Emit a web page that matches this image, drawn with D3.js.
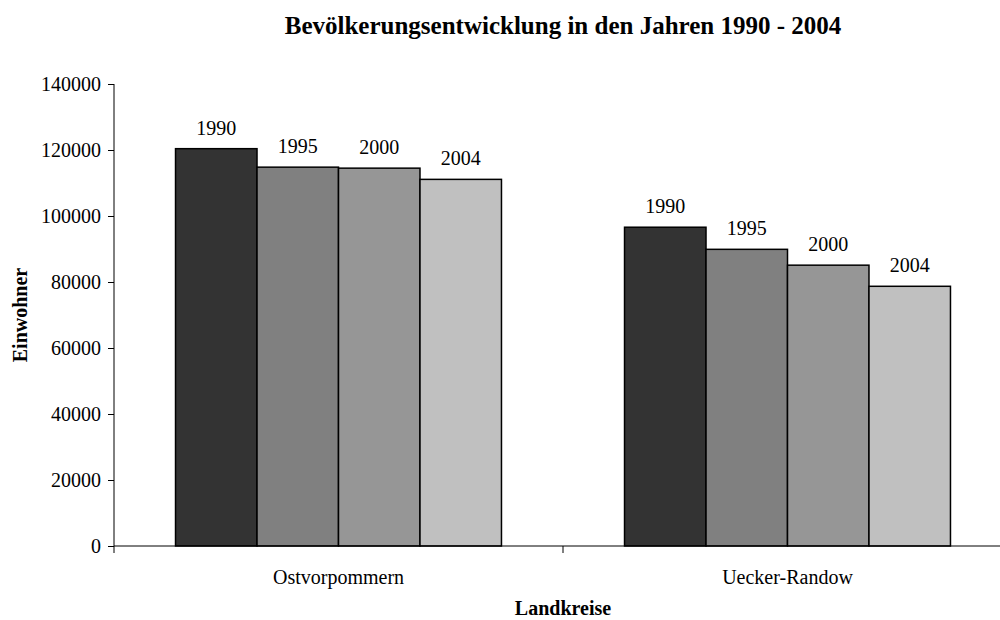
<!DOCTYPE html>
<html>
<head>
<meta charset="utf-8">
<script src="https://cdn.jsdelivr.net/npm/d3@7"></script>
<style>
  body { margin: 0; background: #fff; }
  svg { display: block; font-family: "Liberation Serif", "Times New Roman", serif; }
</style>
</head>
<body>
<script>
var kreise = ["Ostvorpommern", "Uecker-Randow"];
var jahre = ["1990", "1995", "2000", "2004"];
var ostvorpommern = [120400, 114800, 114500, 111100];
var ueckerRandow = [96600, 89900, 85100, 78700];
var yTicks = [0, 20000, 40000, 60000, 80000, 100000, 120000, 140000];
var farben = ["#333333", "#808080", "#969696", "#c0c0c0"];

var werte = [ostvorpommern, ueckerRandow];

var margin = { top: 84, right: -12, bottom: 74, left: 114 },
    width = 1000 - margin.left - margin.right,
    height = 620 - margin.top - margin.bottom;

var svg = d3.select('body').append('svg')
    .attr('width', 1000)
    .attr('height', 620);

var g = svg.append('g')
    .attr('transform', 'translate(' + margin.left + ',' + margin.top + ')');

var x0 = d3.scaleBand().domain(kreise).range([0, width]).padding(0);
var x1 = d3.scaleBand().domain(jahre).range([0, x0.bandwidth()]).paddingInner(0).paddingOuter(0.755);
var y = d3.scaleLinear().domain([0, 140000]).range([height, 0]);

// y axis
var yAxis = d3.axisLeft(y).tickValues(yTicks).tickSize(6).tickPadding(7).tickFormat(d3.format('d'));
g.append('g').attr('class', 'yaxis').call(yAxis)
  .attr('font-family', null).attr('font-size', 20)
  .call(function(a){ a.select('.domain').attr('stroke', '#000').attr('d', 'M0,0V' + height); })
  .selectAll('text').attr('fill', '#000');

// bars
var gruppen = g.selectAll('.gruppe').data(kreise).enter().append('g')
  .attr('class', 'gruppe')
  .attr('transform', function(d){ return 'translate(' + x0(d) + ',0)'; });

gruppen.selectAll('rect').data(function(d, i){
    return werte[i].map(function(v, j){ return { jahr: jahre[j], wert: v, farbe: farben[j] }; });
  }).enter().append('rect')
  .attr('x', function(d){ return x1(d.jahr); })
  .attr('y', function(d){ return y(d.wert); })
  .attr('width', x1.bandwidth())
  .attr('height', function(d){ return height - y(d.wert); })
  .attr('fill', function(d){ return d.farbe; })
  .attr('stroke', '#000').attr('stroke-width', 1.5);

gruppen.selectAll('.label').data(function(d, i){
    return werte[i].map(function(v, j){ return { jahr: jahre[j], wert: v }; });
  }).enter().append('text')
  .attr('class', 'label')
  .attr('x', function(d){ return x1(d.jahr) + x1.bandwidth() / 2; })
  .attr('y', function(d){ return y(d.wert) - 14; })
  .attr('text-anchor', 'middle').attr('font-size', 20)
  .text(function(d){ return d.jahr; });

// x axis
g.append('line').attr('x1', 0).attr('x2', width).attr('y1', height).attr('y2', height)
  .attr('stroke', '#000').attr('stroke-width', 1);
var grenzen = kreise.map(function(d){ return x0(d); }).concat([width]);
g.selectAll('.xtick').data(grenzen).enter().append('line')
  .attr('x1', function(d){ return d; }).attr('x2', function(d){ return d; })
  .attr('y1', height).attr('y2', height + 7)
  .attr('stroke', '#000');
g.selectAll('.kat').data(kreise).enter().append('text')
  .attr('x', function(d){ return x0(d) + x0.bandwidth() / 2; })
  .attr('y', height + 38)
  .attr('text-anchor', 'middle').attr('font-size', 20)
  .text(function(d){ return d; });

// titles
svg.append('text').attr('x', 563).attr('y', 34).attr('text-anchor', 'middle')
  .attr('font-size', 25).attr('font-weight', 'bold')
  .text('Bevölkerungsentwicklung in den Jahren 1990 - 2004');
svg.append('text').attr('x', 563).attr('y', 615).attr('text-anchor', 'middle')
  .attr('font-size', 20).attr('font-weight', 'bold')
  .text('Landkreise');
svg.append('text').attr('text-anchor', 'middle')
  .attr('transform', 'translate(27,' + (margin.top + height / 2) + ')rotate(-90)')
  .attr('font-size', 20).attr('font-weight', 'bold')
  .text('Einwohner');
</script>
</body>
</html>
